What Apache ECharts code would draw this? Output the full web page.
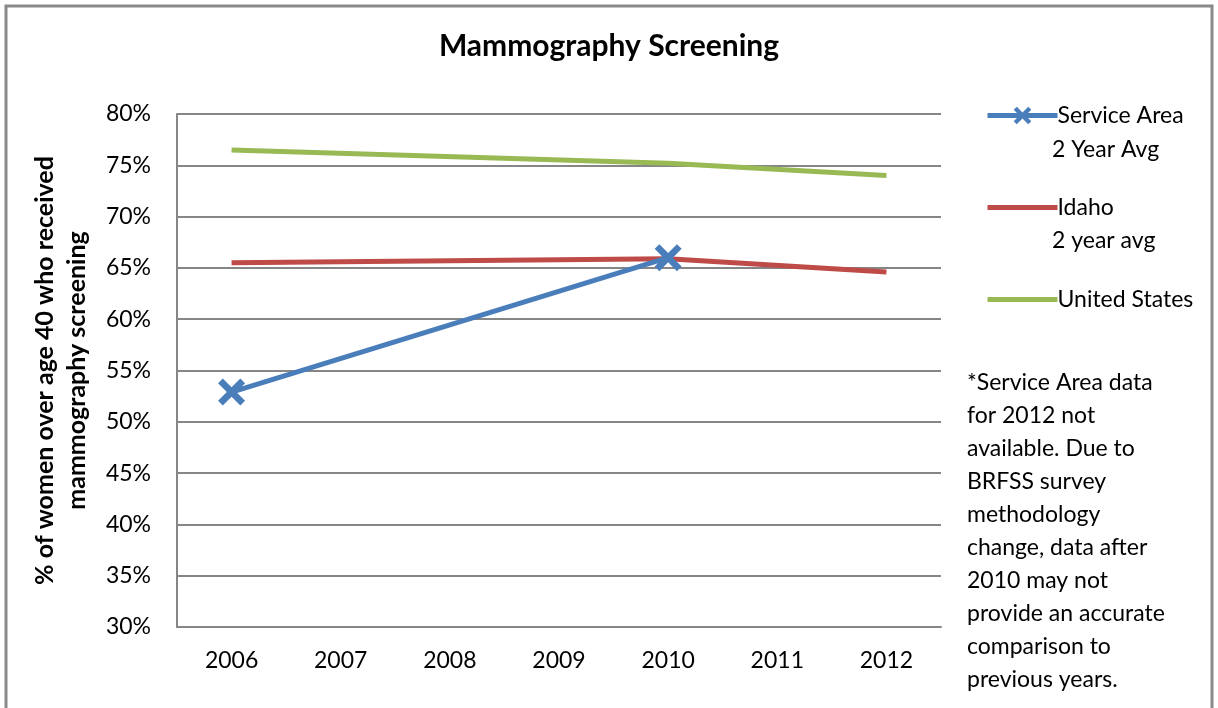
<!DOCTYPE html>
<html>
<head>
<meta charset="utf-8">
<script src="https://cdn.jsdelivr.net/npm/echarts@6/dist/echarts.min.js"></script>
<style>
  html, body { margin: 0; padding: 0; background: #fff; }
  #chart { width: 1218px; height: 708px; }
</style>
</head>
<body>
<div id="chart"></div>
<script>
// Mammography screening rates, % of women over age 40
const years = ['2006', '2007', '2008', '2009', '2010', '2011', '2012'];
const serviceArea = [52.9, null, null, null, 66.0, null, null];
const idaho = [65.5, null, null, null, 65.9, null, 64.6];
const unitedStates = [76.5, null, null, null, 75.2, null, 74.0];
const seriesNames = ['Service Area', 'Idaho', 'United States'];
const legendSecondLines = ['2 Year Avg', '2 year avg'];
const footnoteLines = [
  '*Service Area data',
  'for 2012 not',
  'available. Due to',
  'BRFSS survey',
  'methodology',
  'change, data after',
  '2010 may not',
  'provide an accurate',
  'comparison to',
  'previous years.'
];

const FONT = 'Lato';
// Solid "X" marker
const xMark = 'path://M0,3.5 L3.5,0 L10,6.5 L16.5,0 L20,3.5 L13.5,10 L20,16.5 L16.5,20 L10,13.5 L3.5,20 L0,16.5 L6.5,10 Z';

const chart = echarts.init(document.getElementById('chart'));

const graphics = [
  {
    type: 'rect',
    shape: { x: 6, y: 6, width: 1206, height: 720 },
    style: { fill: 'none', stroke: '#898989', lineWidth: 3 },
    silent: true
  }
];
legendSecondLines.forEach((t, i) => {
  graphics.push({
    type: 'text',
    left: 1052,
    top: 138 + i * 91,
    style: { text: t, font: '23px ' + FONT, fill: '#000' }
  });
});
footnoteLines.forEach((t, i) => {
  graphics.push({
    type: 'text',
    left: 967,
    top: 371 + i * 33,
    style: { text: t, font: '23px ' + FONT, fill: '#000' }
  });
});

chart.setOption({
  backgroundColor: '#fff',
  animation: false,
  textStyle: { fontFamily: FONT },
  title: {
    text: 'Mammography Screening',
    left: 'center',
    top: 26,
    textStyle: { fontFamily: FONT, fontWeight: 'bold', fontSize: 30, color: '#000' }
  },
  grid: { left: 177, right: 277, top: 114, bottom: 81, containLabel: false },
  legend: {
    orient: 'vertical',
    left: 980,
    top: 99,
    itemWidth: 70,
    itemHeight: 22,
    itemGap: 69,
    data: [
      { name: seriesNames[0] },
      { name: seriesNames[1], itemStyle: { opacity: 0 } },
      { name: seriesNames[2], itemStyle: { opacity: 0 } }
    ],
    lineStyle: { width: 5 },
    textStyle: { fontFamily: FONT, fontSize: 23, color: '#000', lineHeight: 22, padding: [0, 0, 0, -5] }
  },
  xAxis: {
    type: 'category',
    data: years,
    boundaryGap: true,
    axisLine: { show: true, lineStyle: { color: '#868686', width: 2 } },
    axisTick: { show: false },
    axisLabel: { fontFamily: FONT, fontSize: 23, color: '#000', margin: 22 }
  },
  yAxis: {
    type: 'value',
    min: 30,
    max: 80,
    interval: 5,
    name: '% of women over age 40 who received\nmammography screening',
    nameLocation: 'middle',
    nameGap: 84,
    nameTextStyle: { fontFamily: FONT, fontWeight: 'bold', fontSize: 25, color: '#000', lineHeight: 32 },
    axisLine: { show: true, lineStyle: { color: '#868686', width: 2 } },
    axisTick: { show: false },
    splitLine: { show: true, lineStyle: { color: '#868686', width: 2 } },
    axisLabel: { fontFamily: FONT, fontSize: 23, color: '#000', margin: 26, formatter: '{value}%' }
  },
  series: [
    {
      name: seriesNames[0],
      type: 'line',
      data: serviceArea,
      connectNulls: true,
      symbol: xMark,
      symbolSize: 27,
      showSymbol: true,
      color: '#4A7EBB',
      lineStyle: { width: 5, color: '#4A7EBB' },
      itemStyle: { color: '#4A7EBB', borderWidth: 0 },
      z: 3
    },
    {
      name: seriesNames[1],
      type: 'line',
      data: idaho,
      connectNulls: true,
      symbol: 'none',
      color: '#BE4B48',
      lineStyle: { width: 5, color: '#BE4B48' },
      z: 2
    },
    {
      name: seriesNames[2],
      type: 'line',
      data: unitedStates,
      connectNulls: true,
      symbol: 'none',
      color: '#98B954',
      lineStyle: { width: 5, color: '#98B954' },
      z: 2
    }
  ],
  graphic: graphics
});
</script>
</body>
</html>
